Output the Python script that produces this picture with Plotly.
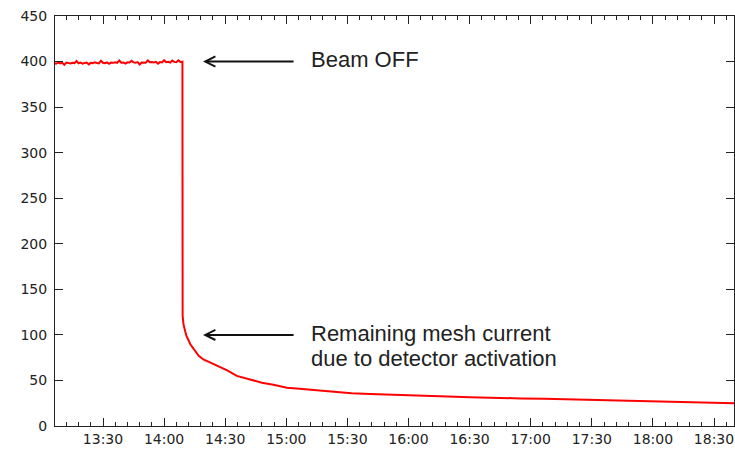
import pandas as pd
import plotly.graph_objects as go

DAY = "2021-01-01 "

# Beam-on readings, one per minute from 13:06 to 14:09
beam_on_start = "13:06:00"
beam_on_values = [
    398.4, 397.6, 399.1, 398.0, 398.6, 396.4, 398.9, 398.2, 397.9, 398.7,
    398.3, 400.6, 398.1, 398.8, 397.7, 398.5, 399.0, 396.9, 398.6, 398.3,
    399.2, 398.4, 398.0, 400.9, 398.7, 398.2, 399.1, 397.5, 398.9, 398.6,
    399.3, 398.5, 401.2, 398.8, 399.0, 397.8, 399.2, 398.9, 400.8, 399.1,
    398.6, 399.4, 396.8, 399.0, 399.3, 398.8, 401.3, 399.2, 399.5, 398.9,
    399.6, 397.6, 399.4, 399.1, 401.5, 399.3, 399.7, 398.8, 401.0, 399.6,
    399.2, 401.4, 399.5, 399.8,
]

# Beam-off decay (remaining mesh current)
decay_times = [
    "14:09:06", "14:09:30", "14:10:20", "14:11:00", "14:12:48", "14:15:12",
    "14:17:00", "14:19:18", "14:23:00", "14:27:30", "14:31:00", "14:35:42",
    "14:38:00", "14:43:54", "14:48:00", "14:53:42", "14:58:00", "15:00:18",
    "15:05:00", "15:11:42", "15:18:00", "15:24:48", "15:32:00", "15:41:12",
    "15:50:00", "15:57:36", "16:05:00", "16:14:00", "16:23:00", "16:30:00",
    "16:37:00", "16:46:42", "16:55:00", "17:06:42", "17:14:00", "17:19:48",
    "17:28:00", "17:36:12", "17:45:00", "17:52:36", "18:00:00", "18:10:00",
    "18:17:12", "18:25:00", "18:32:00", "18:41:00",
]
decay_values = [
    121, 112, 104, 99, 90, 83,
    77, 73, 69, 64.5, 61, 55,
    53.5, 49.5, 47.5, 45.3, 43.5, 42,
    41.2, 39.8, 38.5, 36.9, 36.0, 35.2,
    34.4, 33.8, 33.4, 32.7, 32.1, 31.6,
    31.1, 30.5, 30.3, 30.0, 29.6, 29.4,
    28.7, 28.4, 28.0, 27.7, 27.2, 26.9,
    26.5, 26.0, 25.6, 25.0,
]

x_range = ["13:06:26", "18:39:49"]
y_range = [0, 450]
x_tick0 = "13:30:00"

arrows = [
    # (tip time, tip value, tail time, tail value)
    ("14:19:06", 400, "15:04:18", 400),
    ("14:19:06", 100, "15:04:18", 100),
]
labels = [
    # (left time, centre value, text)
    ("15:11:18", 402, "Beam OFF"),
    ("15:11:18", 101.5, "Remaining mesh current"),
    ("15:11:18", 74, "due to detector activation"),
]

beam_on_times = pd.date_range(DAY + beam_on_start, periods=len(beam_on_values), freq="1min")
times = list(beam_on_times) + [pd.Timestamp(DAY + t) for t in decay_times]
values = beam_on_values + decay_values

fig = go.Figure()
fig.add_trace(go.Scatter(
    x=times, y=values, mode="lines",
    line=dict(color="#ff0000", width=2),
    showlegend=False, hoverinfo="skip",
))

axis_col = "#222222"
tick_font = dict(family="DejaVu Sans", size=14, color="#222222")

fig.update_xaxes(
    type="date",
    range=[DAY + x_range[0], DAY + x_range[1]],
    tick0=DAY + x_tick0, dtick=30 * 60 * 1000,
    tickformat="%H:%M",
    ticks="inside", ticklen=8, tickwidth=1, tickcolor=axis_col,
    minor=dict(dtick=6 * 60 * 1000, ticks="inside", ticklen=4, tickwidth=1, tickcolor=axis_col),
    showline=True, linecolor=axis_col, linewidth=1, mirror="allticks",
    showgrid=False, zeroline=False,
    tickfont=tick_font,
)
fig.update_yaxes(
    range=y_range, dtick=50, tick0=0,
    ticks="inside", ticklen=8, tickwidth=1, tickcolor=axis_col,
    showline=True, linecolor=axis_col, linewidth=1, mirror="allticks",
    showgrid=False, zeroline=False,
    tickfont=tick_font, ticklabelstandoff=4,
)

ann_font = dict(family="Liberation Sans", size=22, color="#222222")
for (tip_t, tip_v, tail_t, tail_v) in arrows:
    fig.add_annotation(
        x=DAY + tip_t, y=tip_v, ax=DAY + tail_t, ay=tail_v,
        xref="x", yref="y", axref="x", ayref="y",
        text="", showarrow=True, arrowhead=5, arrowsize=1, arrowwidth=2,
        arrowcolor="#111111", standoff=0, startstandoff=0,
    )
for (tx, ty, txt) in labels:
    fig.add_annotation(
        x=DAY + tx, y=ty, xref="x", yref="y", text=txt, showarrow=False,
        xanchor="left", yanchor="middle", align="left", font=ann_font,
    )

fig.update_layout(
    width=735, height=453, autosize=False,
    margin=dict(l=55, r=1, t=16, b=27),
    plot_bgcolor="white", paper_bgcolor="white",
)

fig.write_html("out.html")
